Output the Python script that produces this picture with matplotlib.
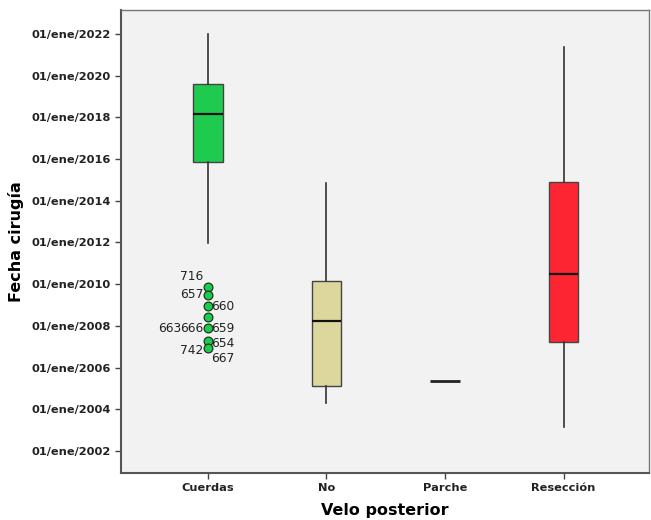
import matplotlib
matplotlib.use("Agg")
import matplotlib.pyplot as plt

# Data (years as decimal values)
categories = ["Cuerdas", "No", "Parche", "Resección"]
whisker_low = [2011.98, 2004.30, 2005.36, 2003.15]
q1 = [2015.86, 2005.12, 2005.36, 2007.23]
medians = [2018.18, 2008.24, 2005.36, 2010.49]
q3 = [2019.60, 2010.15, 2005.36, 2014.90]
whisker_high = [2022.00, 2014.85, 2005.36, 2021.38]
box_colors = ["#1fcb4f", "#dcd89d", "#e8e8e8", "#fe2532"]

outlier_years = [2009.88, 2009.48, 2008.97, 2008.44, 2007.89, 2007.28, 2006.93]
outlier_labels = ["716", "657", "660", "663", "666", "659", "654", "742", "667"]
outlier_label_years = [2010.38, 2009.48, 2008.95, 2007.89, 2007.89, 2007.89, 2007.16, 2006.82, 2006.44]
outlier_label_side = ["l", "l", "r", "ll", "l", "r", "r", "l", "r"]

ytick_years = list(range(2002, 2023, 2))
ytick_labels = [f"01/ene/{y}" for y in ytick_years]

fig = plt.figure(figsize=(6.51, 5.20), dpi=100)
ax = fig.add_axes([0.186, 0.0904, 0.811, 0.8904])
ax.set_facecolor("#f2f2f2")

stats = []
for i, c in enumerate(categories):
    stats.append(dict(label=c, whislo=whisker_low[i], q1=q1[i], med=medians[i],
                      q3=q3[i], whishi=whisker_high[i], fliers=[]))
positions = [1, 2, 3, 4]
bp = ax.bxp(stats, positions=positions, widths=0.25, patch_artist=True,
            showcaps=False, showfliers=False,
            medianprops=dict(color="#111111", linewidth=1.6),
            whiskerprops=dict(color="#333333", linewidth=1.2),
            boxprops=dict(edgecolor="#444444", linewidth=1.0))
for patch, col in zip(bp["boxes"], box_colors):
    patch.set_facecolor(col)
# Parche: only the median line
bp["boxes"][2].set_visible(False)
bp["medians"][2].set_linewidth(2.0)
bp["medians"][2].set_color("#222222")

# Outliers for Cuerdas
ax.scatter([1] * len(outlier_years), outlier_years, s=40, facecolor="#1fcb4f",
           edgecolor="#1a3a1a", linewidth=0.9, zorder=5)
for lab, yv, side in zip(outlier_labels, outlier_label_years, outlier_label_side):
    if side == "l":
        x, ha = 0.965, "right"
    elif side == "ll":
        x, ha = 0.78, "right"
    else:
        x, ha = 1.03, "left"
    ax.text(x, yv, lab, ha=ha, va="center", fontsize=8.8, color="#222222")

ax.set_xlim(0.27, 4.72)
ax.set_ylim(2000.94, 2023.15)
ax.set_xticks(positions)
ax.set_xticklabels(categories, fontsize=8.2, fontweight="bold", color="#222222")
ax.set_yticks(ytick_years)
ax.set_yticklabels(ytick_labels, fontsize=8.2, fontweight="bold", color="#222222")
ax.tick_params(axis="both", length=4, width=1, color="#444444")
ax.set_xlabel("Velo posterior", fontsize=11.5, fontweight="bold", labelpad=7)
ax.set_ylabel("Fecha cirugía", fontsize=11.5, fontweight="bold", labelpad=5)

for s in ["left", "bottom"]:
    ax.spines[s].set_color("#555555")
    ax.spines[s].set_linewidth(1.5)
for s in ["top", "right"]:
    ax.spines[s].set_color("#777777")
    ax.spines[s].set_linewidth(1.0)

fig.savefig("out.png", dpi=100)
